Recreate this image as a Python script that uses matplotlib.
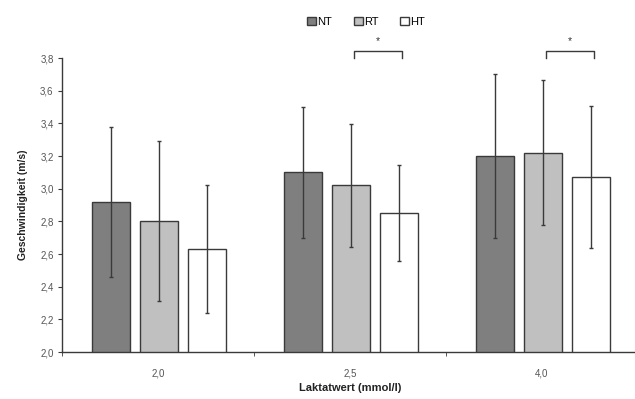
import matplotlib.pyplot as plt
import numpy as np

plt.rcParams['font.family'] = ['Liberation Sans', 'DejaVu Sans']

categories = ['2,0', '2,5', '4,0']
groups = ['NT', 'RT', 'HT']
means = {
    'NT': [2.92, 3.10, 3.20],
    'RT': [2.80, 3.02, 3.22],
    'HT': [2.63, 2.85, 3.07],
}
sds = {
    'NT': [0.46, 0.40, 0.50],
    'RT': [0.49, 0.375, 0.445],
    'HT': [0.39, 0.295, 0.435],
}
colors = {'NT': '#7f7f7f', 'RT': '#c0c0c0', 'HT': '#ffffff'}
# significance brackets between RT and HT
sig_cats = [1, 2]

fig = plt.figure(figsize=(6.35, 3.99), dpi=100)
ax = fig.add_axes([62 / 635, 47 / 399, 576 / 635, 294 / 399])

x = np.arange(len(categories))
w = 0.2
offs = [-0.245, 0.005, 0.255]
edge = '#3a3a3a'
for g, o in zip(groups, offs):
    ax.bar(x + o, means[g], w, bottom=0, color=colors[g], edgecolor=edge,
           linewidth=1.0, label=g, zorder=2)
    ax.errorbar(x + o, means[g], yerr=sds[g], fmt='none', ecolor=edge,
                elinewidth=1.0, capsize=1.5, capthick=1.0, zorder=3)

for c in sig_cats:
    x1 = c + offs[1] + 0.015
    x2 = c + offs[2] + 0.015
    ax.plot([x1, x1, x2, x2], [3.80, 3.845, 3.845, 3.80], color=edge,
            linewidth=1.0, clip_on=False)
    ax.text((x1 + x2) / 2, 3.875, '*', ha='center', va='bottom', fontsize=7.5,
            color='#333333')

ax.set_ylim(2.0, 3.8)
ax.set_xlim(-0.5, 2.5)
yt = np.arange(2.0, 3.81, 0.2)
ax.set_yticks(yt)
ax.set_yticklabels([('%.1f' % v).replace('.', ',') for v in yt], fontsize=7,
                   color='#555555')
ax.set_xticks(x)
ax.set_xticklabels(categories, fontsize=7, color='#555555')
ax.set_xticks([-0.5, 0.5, 1.5], minor=True)
ax.tick_params(axis='x', which='major', length=0, pad=12)
ax.tick_params(axis='x', which='minor', length=3, direction='out', color=edge)
ax.tick_params(axis='y', length=3, direction='out', color=edge, pad=3)

for s in ['top', 'right']:
    ax.spines[s].set_visible(False)
for s in ['left', 'bottom']:
    ax.spines[s].set_color(edge)
    ax.spines[s].set_linewidth(1.0)

ax.set_ylabel('Geschwindigkeit (m/s)', fontsize=7.5, fontweight='bold',
              labelpad=9, color='#222222')
ax.set_xlabel('Laktatwert (mmol/l)', fontsize=8, fontweight='bold',
              labelpad=3, color='#222222')

fig.legend(loc='center', bbox_to_anchor=(366 / 635, 1 - 22 / 399), ncol=3,
           frameon=False, fontsize=8, handlelength=0.8, handleheight=0.8,
           handletextpad=0.1, columnspacing=2.0)

fig.savefig('out.png', dpi=100)
